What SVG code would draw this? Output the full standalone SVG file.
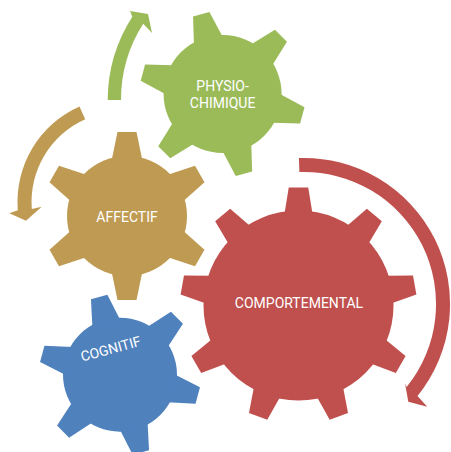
<svg xmlns="http://www.w3.org/2000/svg" width="451" height="452" viewBox="0 0 451 452">
<style>
.lbl{font-family:Roboto,"Liberation Sans",sans-serif;font-size:14px;fill:#FFFFFF;text-anchor:middle}
.green{fill:#9BBB59}
.tan{fill:#BF9A52}
.red{fill:#C0504D}
.blue{fill:#4F81BD}
</style>
<defs>
<polygon id="tA" points="-15.3,-56 -9.5,-84 9.5,-84 15.3,-56"/>
<polygon id="tG" points="-14.9,-55 -8.5,-82.5 8.5,-82.5 14.9,-55"/>
<polygon id="tB" points="-14.35,-53 -8.5,-80.5 8.5,-80.5 14.35,-53"/>
<polygon id="tR" points="-14.3,-90 -9.75,-118 9.75,-118 14.3,-90"/>
</defs>
<g id="connectors">
<path class="green" d="M 107.7 100 A 155 155 0 0 1 132.3 16.7 L 130 11 L 148 14 L 152 33 L 143.2 23.7 A 142 142 0 0 0 121 100 Z"/>
<path class="tan" d="M 79.5 106.5 A 104.5 104.5 0 0 0 17.8 210.2 L 9.3 213.3 L 26 220.7 L 41.7 206.7 L 31.8 209.1 A 90.5 90.5 0 0 1 85.2 119.3 Z"/>
<path class="red" d="M 298.9 158.1 A 146 146 0 0 1 417.5 395.9 L 427.3 406.7 L 408.3 401.7 L 405 383.3 L 406.6 387.1 A 132 132 0 0 0 299.4 172.1 Z"/>
</g>
<g id="gear-physio" class="green" transform="translate(222.6,94)">
<circle r="59"/>
<use href="#tG" transform="rotate(-15)"/>
<use href="#tG" transform="rotate(45)"/>
<use href="#tG" transform="rotate(105)"/>
<use href="#tG" transform="rotate(165)"/>
<use href="#tG" transform="rotate(225)"/>
<use href="#tG" transform="rotate(285)"/>
<text class="lbl" x="0" y="-3.3">PHYSIO-</text>
<text class="lbl" x="0" y="14.3">CHIMIQUE</text>
</g>
<g id="gear-affectif" class="tan" transform="translate(127,216)">
<circle r="60"/>
<use href="#tA"/>
<use href="#tA" transform="rotate(60)"/>
<use href="#tA" transform="rotate(120)"/>
<use href="#tA" transform="rotate(180)"/>
<use href="#tA" transform="rotate(240)"/>
<use href="#tA" transform="rotate(300)"/>
<text class="lbl" x="0" y="5.7">AFFECTIF</text>
</g>
<g id="gear-comportemental" class="red" transform="translate(298.5,305.5)">
<circle r="95"/>
<use href="#tR"/>
<use href="#tR" transform="rotate(40)"/>
<use href="#tR" transform="rotate(80)"/>
<use href="#tR" transform="rotate(120)"/>
<use href="#tR" transform="rotate(160)"/>
<use href="#tR" transform="rotate(200)"/>
<use href="#tR" transform="rotate(240)"/>
<use href="#tR" transform="rotate(280)"/>
<use href="#tR" transform="rotate(320)"/>
<text class="lbl" x="0.5" y="2.8">COMPORTEMENTAL</text>
</g>
<g id="gear-cognitif" class="blue" transform="translate(120,374.7)">
<circle r="57"/>
<use href="#tB" transform="rotate(-15)"/>
<use href="#tB" transform="rotate(45)"/>
<use href="#tB" transform="rotate(105)"/>
<use href="#tB" transform="rotate(165)"/>
<use href="#tB" transform="rotate(225)"/>
<use href="#tB" transform="rotate(285)"/>
<text class="lbl" transform="translate(-8,-21.1) rotate(-15)">COGNITIF</text>
</g>
</svg>
